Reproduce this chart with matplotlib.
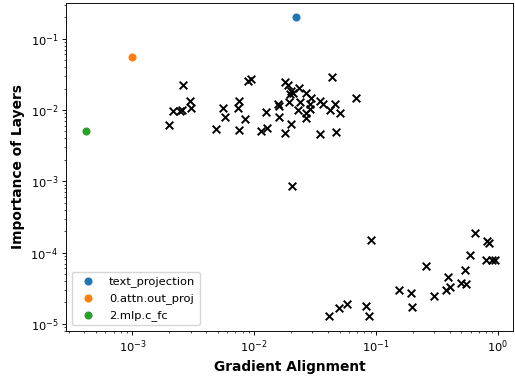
import matplotlib
matplotlib.use('Agg')
import matplotlib.pyplot as plt
import numpy as np

# highlighted layers
highlight_names = ['text_projection', '0.attn.out_proj', '2.mlp.c_fc']
highlight_align = [0.0219, 0.00100, 0.000418]
highlight_imp = [0.204, 0.0558, 0.0051]
highlight_colors = ['#1f77b4', '#ff7f0e', '#2ca02c']

# all other layers
other_align = [
    0.00199, 0.00214, 0.00247, 0.00256, 0.00259, 0.00294, 0.00300, 0.00481,
    0.00552, 0.00578, 0.00743, 0.00733, 0.00832, 0.00746, 0.00885, 0.00944,
    0.01143, 0.0127, 0.01256, 0.01563, 0.0159, 0.0159, 0.01774, 0.0201,
    0.01774, 0.0188, 0.0201, 0.02075, 0.0198, 0.0232, 0.0267, 0.0294,
    0.0192, 0.0239, 0.0227, 0.0264, 0.0264, 0.0288, 0.0285, 0.0344,
    0.0364, 0.0416, 0.0457, 0.0502, 0.0437, 0.0679, 0.0344, 0.0466,
    0.0204,
    0.0914, 0.0410, 0.0499, 0.0581, 0.0832, 0.0869, 0.154, 0.192,
    0.195, 0.255, 0.300, 0.390, 0.373, 0.400, 0.495, 0.544,
    0.540, 0.587, 0.646, 0.815, 0.847, 0.792, 0.895, 0.944,
]
other_imp = [
    0.00621, 0.00955, 0.00955, 0.00986, 0.0226, 0.01318, 0.01064, 0.00546,
    0.01064, 0.00796, 0.01318, 0.01064, 0.00747, 0.00528, 0.0252, 0.0275,
    0.0050, 0.00558, 0.00925, 0.0121, 0.01122, 0.00804, 0.0048, 0.00637,
    0.0249, 0.0221, 0.01862, 0.0173, 0.0169, 0.0203, 0.01746, 0.01473,
    0.01294, 0.01294, 0.01007, 0.00906, 0.00766, 0.01225, 0.01042, 0.01327,
    0.01205, 0.01007, 0.01205, 0.00906, 0.0288, 0.01486, 0.00465, 0.00488,
    0.000845,
    1.51e-4, 1.29e-5, 1.68e-5, 1.93e-5, 1.81e-5, 1.29e-5, 3.0e-5, 2.75e-5,
    1.71e-5, 6.52e-5, 2.47e-5, 4.61e-5, 2.97e-5, 3.30e-5, 3.80e-5, 3.62e-5,
    5.73e-5, 9.14e-5, 1.91e-4, 1.476e-4, 1.37e-4, 7.98e-5, 7.78e-5, 7.78e-5,
]

# the original figure looks rendered larger and shrunk, so scale everything
k = 0.825
plt.rcParams.update({
    'font.size': 10 * k,
    'axes.linewidth': 0.8 * k,
    'xtick.major.size': 3.5 * k,
    'ytick.major.size': 3.5 * k,
    'xtick.minor.size': 2 * k,
    'ytick.minor.size': 2 * k,
    'xtick.major.width': 0.8 * k,
    'ytick.major.width': 0.8 * k,
    'xtick.minor.width': 0.6 * k,
    'ytick.minor.width': 0.6 * k,
    'xtick.major.pad': 3.5 * k,
    'ytick.major.pad': 3.5 * k,
    'lines.linewidth': 1.5 * k,
})


def main():
    fig = plt.figure(figsize=(5.15, 3.79), dpi=100)
    ax = fig.add_axes([0.129, 0.127, 0.867, 0.866])

    ax.scatter(other_align, other_imp, marker='x', color='black', s=30,
               linewidths=1.4)
    for name, xa, yi, c in zip(highlight_names, highlight_align, highlight_imp, highlight_colors):
        ax.scatter([xa], [yi], color=c, label=name, s=34, linewidths=0)

    ax.set_xscale('log')
    ax.set_yscale('log')
    ax.set_xlim(2.87e-4, 1.325)
    ax.set_ylim(7.98e-6, 0.32)
    ax.set_xlabel('Gradient Alignment', fontsize=12 * k, fontweight='bold', labelpad=4 * k)
    ax.set_ylabel('Importance of Layers', fontsize=12 * k, fontweight='bold', labelpad=5 * k)
    ax.legend(loc='lower left')

    fig.savefig('out.png', dpi=100)


if __name__ == "__main__":
    main()
